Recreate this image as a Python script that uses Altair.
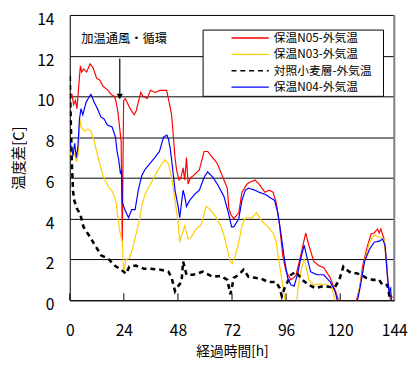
import altair as alt
import pandas as pd

FONT = "Noto Sans CJK JP"

series_names = ["保温N05-外気温", "保温N03-外気温", "対照小麦層-外気温", "保温N04-外気温"]
series_colors = ["#FF0000", "#FFCC00", "#000000", "#0000FF"]
series_widths = [1.2, 1.2, 2.6, 1.2]

h_n05 = [0, 1, 1.7, 2.5, 3.2, 3.9, 4.7, 5.3, 6.1, 7.5, 9, 10.4, 11.9, 13.3, 14.8, 17, 18.4, 19.9,
         20.6, 21.3, 22, 22.8, 23.3, 23.9, 24.6, 26.8, 28.6, 29.5, 31.5, 32.5, 34.4, 35.8, 38, 40, 43,
         44.5, 45.2, 46, 46.7, 47.4, 48.5, 49.3, 50.3, 51, 51.8, 52.5, 53.5, 54.7, 57.5, 59.6, 61.2,
         63.4, 65.5, 67.7, 69.9, 70.6, 71.5, 72.8, 75, 76.4, 78.6, 80, 82.2, 84, 86.6, 88.5, 90.2,
         91.6, 93.1, 94.5, 96, 98.2, 100.3, 102.5, 104.7, 106.1, 108.3, 110.5, 112.7, 115.6, 118.4,
         119.2, 121, 126, 127.2, 128.6, 130, 132.2, 133.7, 135, 136.6, 137.3, 138, 139.5, 140.5,
         141.2, 141.6, 142.4, 143]
v_n05 = [10.1, 10.1, 9.6, 9.8, 9.4, 10.4, 11.5, 11.2, 11.35, 11.2, 11.6, 11.4, 10.9, 10.8, 10.5,
         10.3, 10.1, 10.0, 9.7, 9.3, 8.6, 7.8, 2.9, 9.8, 9.9, 9.4, 9.1, 9.3, 10.2, 10.0, 9.9, 10.3,
         10.2, 10.3, 10.3, 9.5, 9.1, 8.0, 7.0, 6.4, 5.9, 6.0, 6.5, 5.9, 7.0, 5.7, 6.0, 6.1, 6.4, 7.3,
         7.3, 7.0, 6.7, 6.1, 5.5, 4.5, 4.2, 4.0, 4.3, 5.3, 5.7, 5.8, 5.9, 5.7, 5.3, 5.4, 5.3, 4.8,
         3.7, 2.2, 1.4, 1.0, 1.2, 2.2, 3.3, 2.7, 1.9, 1.7, 1.6, 1.1, 0.3, 0.0, -0.5, -0.5, 0.0, 0.6,
         1.7, 2.7, 3.25, 3.3, 3.5, 3.3, 3.5, 3.0, 2.0, 0.9, 0.6, 0.1, -0.3]

h_n03 = [0, 1, 2, 3, 3.8, 4.5, 5, 6.5, 8, 9.4, 10.9, 11.9, 13.3, 14.8, 17, 19.1, 20.6, 21.3, 22,
         22.8, 23.3, 23.9, 25, 26.4, 27.8, 29.3, 30.7, 31.9, 33.4, 35.8, 38.7, 40.9, 42.3, 43.8,
         45.2, 46.7, 48.1, 48.8, 49.6, 51, 52.5, 53.9, 56.1, 58.3, 60.5, 61.9, 63.4, 64.8, 67, 68.4,
         69.9, 71.3, 72.1, 73.5, 75, 76.4, 77.9, 80.8, 82.9, 85.1, 88, 90.2, 91.6, 93.1, 94.5, 95.5,
         96.5, 100, 100.8, 101.3, 102.8, 104, 105.1, 106.1, 108.3, 111.2, 114.1, 116.3, 117.7,
         118.5, 126.5, 127.5, 128.6, 130.8, 133, 135.1, 137.3, 139.5, 140.9, 141.6, 142.4]
v_n03 = [7.3, 7.0, 7.2, 6.8, 7.2, 8.9, 8.5, 8.3, 8.4, 8.3, 7.8, 7.3, 6.7, 6.1, 5.6, 5.3, 4.8, 4.1,
         3.5, 3.1, 2.9, 1.4, 2.0, 2.05, 2.5, 3.2, 3.8, 4.6, 5.2, 5.7, 6.3, 6.7, 6.9, 6.7, 6.05, 4.9,
         3.8, 2.85, 3.2, 3.65, 3.0, 3.1, 3.5, 3.7, 4.6, 4.5, 4.3, 4.1, 3.65, 3.2, 2.5, 1.9, 1.8, 2.2,
         2.85, 3.65, 4.05, 4.05, 4.3, 3.9, 3.6, 3.3, 2.85, 1.7, 0.75, 0.0, -0.5, -0.5, 0.0, 0.6,
         1.55, 2.05, 1.55, 1.0, 0.75, 0.8, 0.75, 0.6, 0.0, -0.5, -0.5, 0.0, 0.6, 1.9, 2.85, 3.2,
         3.1, 3.0, 1.25, 0.3, -0.3]

h_ctl = [0, 0.5, 1.0, 1.5, 2.0, 3.2, 4.7, 6.1, 9, 11.2, 14, 17, 19.9, 22.8, 25, 26.4, 29.3, 32.9,
         35.8, 40.2, 43.8, 45.2, 46.7, 47.4, 49.6, 50.3, 51.8, 54.7, 59, 63.4, 67, 69.9, 71.3, 72.8,
         75, 77.1, 79.3, 82.2, 85.1, 88, 91.6, 93.1, 94.1, 95.3, 98.2, 100.3, 103.2, 106.1, 109,
         112.7, 115.6, 117.7, 119.6, 121.4, 122.8, 125, 127.2, 129.3, 131.5, 134.4, 137.3, 138.8,
         141, 142, 143]
v_ctl = [11.0, 8.5, 6.5, 5.3, 4.9, 4.5, 4.2, 3.6, 3.1, 2.7, 2.2, 2.05, 1.7, 1.5, 1.3, 1.65, 1.7,
         1.55, 1.55, 1.5, 1.4, 1.1, 0.45, 0.6, 0.9, 1.9, 1.25, 1.25, 1.4, 1.15, 1.2, 1.0, 0.3, 1.1,
         1.25, 1.5, 1.15, 1.1, 1.05, 0.9, 0.9, 0.6, 0.2, 0.6, 1.25, 1.4, 1.0, 0.75, 0.6, 0.7, 0.65,
         0.65, 1.0, 1.65, 1.5, 1.33, 1.33, 1.25, 1.1, 1.0, 1.0, 0.75, 0.75, 0.1, 0.2]

h_n04 = [0, 0.7, 1.4, 2.2, 2.9, 3.6, 4.3, 5.0, 5.8, 7.2, 8.7, 9.4, 10.9, 12.3, 13.8, 15.2, 16.7,
         18.8, 20.3, 21.0, 21.7, 22.5, 23.0, 23.3, 24.6, 26.1, 27.5, 29, 30.4, 31.9, 33.3, 35.5,
         37.7, 39.8, 41.6, 43.1, 43.8, 44.5, 45.2, 46, 46.7, 48.1, 48.8, 49.6, 50.3, 51, 51.8, 53.2,
         55.4, 57.5, 59.7, 61.2, 63.4, 65.5, 68.4, 70.6, 71.8, 72.8, 75, 76.4, 77.9, 79.3, 82.2, 84,
         86.6, 90.9, 92.3, 93.8, 95.2, 96.7, 98.2, 99.6, 101, 102.5, 104, 105.4, 106.9, 109.7,
         112.7, 115.6, 117.7, 118.7, 120, 126, 127.9, 129.3, 130.8, 133, 135.1, 137.3, 138.8,
         139.9, 140.9, 141.6, 142.4, 142.8]
v_n04 = [7.8, 7.5, 7.1, 7.7, 7.0, 7.5, 8.9, 9.4, 9.1, 9.7, 10.0, 10.1, 9.7, 9.4, 9.0, 8.9, 8.6,
         8.5, 8.0, 7.3, 6.9, 6.2, 6.4, 4.8, 4.4, 4.05, 4.45, 4.45, 5.4, 6.1, 6.4, 6.7, 7.0, 7.3, 8.0,
         8.1, 7.9, 7.5, 6.9, 6.1, 5.4, 4.6, 4.05, 4.8, 5.4, 5.1, 4.6, 4.9, 5.2, 5.4, 6.05, 6.3,
         6.05, 5.7, 5.1, 4.2, 3.6, 3.6, 4.0, 4.9, 5.4, 5.5, 5.4, 5.3, 5.2, 4.9, 4.3, 3.2, 2.05, 1.1,
         0.75, 0.7, 1.25, 2.05, 2.7, 2.05, 1.4, 1.25, 1.25, 0.9, 0.45, 0.0, -0.5, -0.5, 0.1, 0.9,
         1.9, 2.5, 2.85, 2.9, 3.0, 2.7, 1.25, 0.45, 0.6, -0.3]

x_tick_values = [0, 24, 48, 72, 96, 120, 144]
y_tick_values = [0, 2, 4, 6, 8, 10, 12, 14]

annotation_text = ["加温通風・循環"]
annotation_x = [5.1]
annotation_y = [12.8]
arrow_x = [22.2]
arrow_y_top = [11.86]
arrow_y_tip = [10.0]

rows = []
for name, hs, vs in zip(series_names, [h_n05, h_n03, h_ctl, h_n04], [v_n05, v_n03, v_ctl, v_n04]):
    for i, (h, v) in enumerate(zip(hs, vs)):
        rows.append({"series": name, "h": h, "v": v, "i": i})
df = pd.DataFrame(rows)

xscale = alt.Scale(domain=[0, 144], nice=False)
yscale = alt.Scale(domain=[0, 14], nice=False)

legend_kw = dict(
    title=None, orient="none", legendX=164, legendY=16,
    symbolType="stroke", symbolSize=1444, symbolStrokeWidth=1.5,
    clipHeight=15, rowPadding=1.7, padding=0, labelOffset=4,
    labelFont=FONT, labelFontSize=12, labelColor="#000",
)
color_enc = alt.Color(
    "series:N",
    scale=alt.Scale(domain=series_names, range=series_colors),
    legend=alt.Legend(**legend_kw),
)
dash_enc = alt.StrokeDash(
    "series:N",
    scale=alt.Scale(domain=series_names, range=[[1, 0], [1, 0], [5, 4], [1, 0]]),
    legend=alt.Legend(**legend_kw),
)

x_axis = alt.Axis(values=x_tick_values, grid=False, ticks=False, domainColor="#000",
                  labelFont=FONT, labelFontSize=16, labelColor="#000", labelPadding=23,
                  labelFlush=False, title="経過時間[h]", titleFont=FONT, titleFontSize=14,
                  titleFontWeight="normal", titleColor="#000", titlePadding=6)
y_axis = alt.Axis(values=y_tick_values, grid=True, gridColor="#000", gridWidth=1, ticks=False,
                  domainColor="#000", labelFont=FONT, labelFontSize=16, labelColor="#000",
                  labelPadding=16, labelOffset=4.5, title="温度差[C]", titleFont=FONT,
                  titleFontSize=15, titleFontWeight="normal", titleColor="#000",
                  titlePadding=10)

base = alt.Chart(df)

legend_box = alt.Chart(alt.Data(values=[{}])).mark_rect(
    fill="#FFFFFF", stroke="#000", strokeWidth=1
).encode(x=alt.value(136), x2=alt.value(320), y=alt.value(15.4), y2=alt.value(83))

layers = []
for name, sw in zip(series_names, series_widths):
    layers.append(
        base.transform_filter(alt.datum.series == name).mark_line(clip=True, strokeWidth=sw).encode(
            x=alt.X("h:Q", scale=xscale, axis=x_axis),
            y=alt.Y("v:Q", scale=yscale, axis=y_axis),
            color=color_enc, strokeDash=dash_enc,
            order="i:Q",
        )
    )

ticks_df = pd.DataFrame({"h": x_tick_values, "y0": [0] * 7, "y1": [0.34] * 7})
ticks = alt.Chart(ticks_df).mark_rule(color="#000", strokeWidth=1).encode(
    x=alt.X("h:Q", scale=xscale), y=alt.Y("y0:Q", scale=yscale), y2="y1:Q"
)

right_border = alt.Chart(pd.DataFrame({"h": [144], "a": [0], "b": [14]})).mark_rule(
    color="#808080", strokeWidth=2
).encode(x=alt.X("h:Q", scale=xscale), y=alt.Y("a:Q", scale=yscale), y2="b:Q")

ann_df = pd.DataFrame({"t": annotation_text, "x": annotation_x, "y": annotation_y})
ann = alt.Chart(ann_df).mark_text(align="left", baseline="middle", font=FONT, fontSize=12.5,
                                  color="#000").encode(
    x=alt.X("x:Q", scale=xscale), y=alt.Y("y:Q", scale=yscale), text="t:N")

arrow_df = pd.DataFrame({"x": arrow_x, "y1": arrow_y_top, "y2": arrow_y_tip})
arrow_line = alt.Chart(arrow_df).mark_rule(color="#000", strokeWidth=1.2).encode(
    x=alt.X("x:Q", scale=xscale), y=alt.Y("y1:Q", scale=yscale), y2="y2:Q")
arrow_head = alt.Chart(arrow_df).mark_point(shape="triangle-down", filled=True, color="#000",
                                            size=40, opacity=1).encode(
    x=alt.X("x:Q", scale=xscale), y=alt.Y("y2:Q", scale=yscale))

chart = alt.layer(legend_box, *layers, ticks, right_border, ann, arrow_line, arrow_head).properties(
    width=331, height=291,
    padding={"left": 63, "top": 3.6, "right": 14, "bottom": 56},
    autosize="none",
).configure_view(stroke="#000", strokeWidth=1).configure(background="#FFFFFF")

chart.save("out.html", embed_options={"renderer": "svg", "actions": False})
